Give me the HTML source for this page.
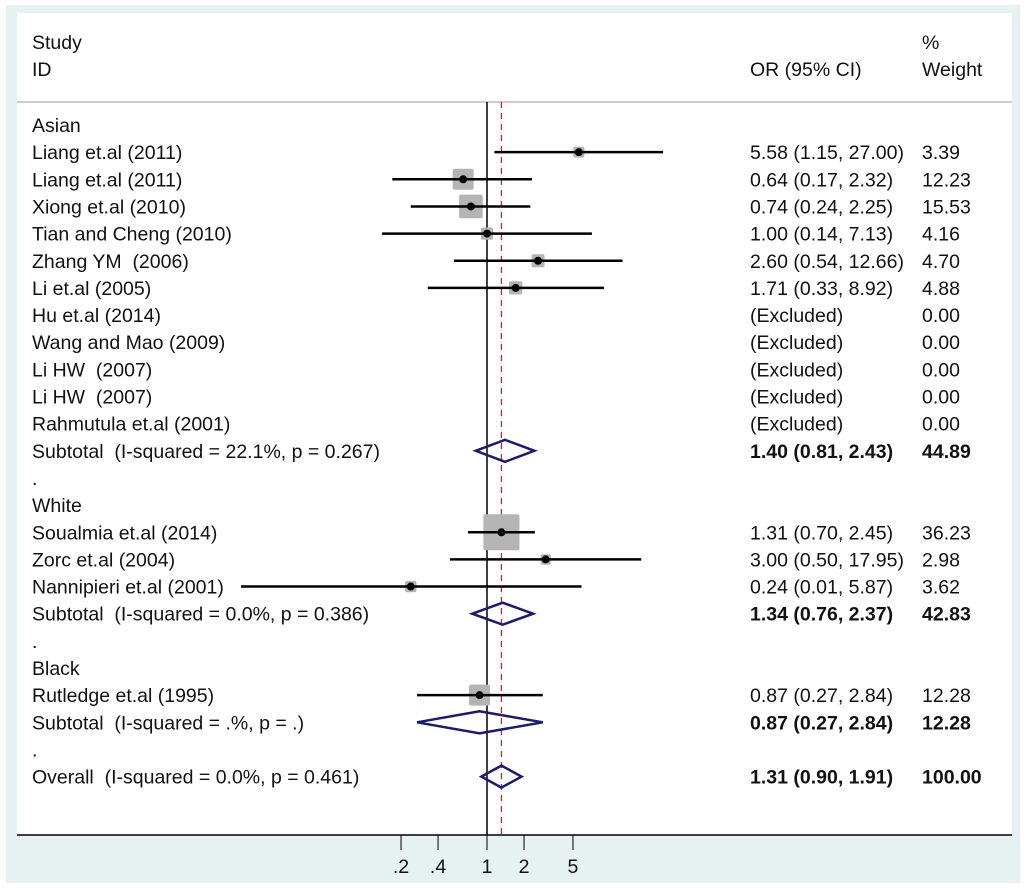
<!DOCTYPE html>
<html><head><meta charset="utf-8"><style>
body{margin:0;background:#fff}
svg{display:block;font-family:"Liberation Sans",Arial,sans-serif}
text{font-size:19.5px;fill:#111;white-space:pre}
</style></head><body>
<svg id="chart" width="1024" height="889">
<rect x="6" y="5" width="1014" height="878" fill="#e6f2f2"/>
<rect x="17" y="13" width="995" height="822" fill="#fff"/>
<line x1="17" y1="102" x2="1012" y2="102" stroke="#bbb" stroke-width="1.5"/>
<text x="32" y="49">Study</text>
<text x="32" y="76">ID</text>
<text x="750" y="76">OR (95% CI)</text>
<text x="922" y="49">%</text>
<text x="922" y="76">Weight</text>
<g id="marks"></g>
</svg>
<script>
const labels=["Asian","Liang et.al (2011)","Liang et.al (2011)","Xiong et.al (2010)","Tian and Cheng (2010)","Zhang YM  (2006)","Li et.al (2005)","Hu et.al (2014)","Wang and Mao (2009)","Li HW  (2007)","Li HW  (2007)","Rahmutula et.al (2001)","Subtotal  (I-squared = 22.1%, p = 0.267)",".","White","Soualmia et.al (2014)","Zorc et.al (2004)","Nannipieri et.al (2001)","Subtotal  (I-squared = 0.0%, p = 0.386)",".","Black","Rutledge et.al (1995)","Subtotal  (I-squared = .%, p = .)",".","Overall  (I-squared = 0.0%, p = 0.461)"];
const types=["h","s","s","s","s","s","s","x","x","x","x","x","d","b","h","s","s","s","d","b","h","s","d","b","d"];
const orVals=[null,5.58,0.64,0.74,1.00,2.60,1.71,null,null,null,null,null,1.40,null,null,1.31,3.00,0.24,1.34,null,null,0.87,0.87,null,1.31];
const lowVals=[null,1.15,0.17,0.24,0.14,0.54,0.33,null,null,null,null,null,0.81,null,null,0.70,0.50,0.01,0.76,null,null,0.27,0.27,null,0.90];
const highVals=[null,27.00,2.32,2.25,7.13,12.66,8.92,null,null,null,null,null,2.43,null,null,2.45,17.95,5.87,2.37,null,null,2.84,2.84,null,1.91];
const weights=[null,3.39,12.23,15.53,4.16,4.70,4.88,0,0,0,0,0,44.89,null,null,36.23,2.98,3.62,42.83,null,null,12.28,12.28,null,100.00];
const tickVals=[0.2,0.4,1,2,5];
const tickLabels=[".2",".4","1","2","5"];
const overallOR=1.31;

const NS="http://www.w3.org/2000/svg";
const g=document.getElementById('marks');
const xS=v=>487+123*Math.log10(v);
const yS=i=>125+i*27.15;
function mk(tag,at,parent){const e=document.createElementNS(NS,tag);for(const k in at)e.setAttribute(k,at[k]);(parent||g).appendChild(e);return e;}
const f2=v=>v.toFixed(2);
let e=mk('line',{x1:xS(1),y1:102,x2:xS(1),y2:835,stroke:'#000','stroke-width':1.5});


e=mk('line',{x1:xS(overallOR),y1:102,x2:xS(overallOR),y2:835,stroke:'#b03040','stroke-width':1.3,'stroke-dasharray':'6,5'});


labels.forEach((lab,i)=>{
  const y=yS(i);
  let t=mk('text',{x:32,y:y+7});t.textContent=lab;
  
  
  const ty=types[i];
  if(ty==='s'){
    const side=6*Math.sqrt(weights[i]);
    let r=mk('rect',{x:xS(orVals[i])-side/2,y:y-side/2,width:side,height:side,fill:'#b4b4b4',rx:2});
    
    
    let l=mk('line',{x1:xS(lowVals[i]),y1:y,x2:xS(highVals[i]),y2:y,stroke:'#000','stroke-width':2.5});
    
    
    let c=mk('circle',{cx:xS(orVals[i]),cy:y,r:4,fill:'#000'});
    
    
  }
  if(ty==='d'){
    const a=xS(lowVals[i]),m=xS(orVals[i]),b=xS(highVals[i]);
    let p=mk('polygon',{points:`${a},${y} ${m},${y-11} ${b},${y} ${m},${y+11}`,fill:'none',stroke:'#1a1a6e','stroke-width':2.5});
    
    
  }
  if(ty==='s'||ty==='d'||ty==='x'){
    let o=mk('text',{x:750,y:y+7,'font-weight':ty==='d'?'bold':'normal'});
    o.textContent=ty==='x'?'(Excluded)':`${f2(orVals[i])} (${f2(lowVals[i])}, ${f2(highVals[i])})`;
    
    
    let w=mk('text',{x:922,y:y+7,'font-weight':ty==='d'?'bold':'normal'});
    w.textContent=f2(weights[i]);
    
    
  }
});
e=mk('line',{x1:17,y1:835,x2:1012,y2:835,stroke:'#000','stroke-width':1.5});


tickVals.forEach((v,i)=>{
  let l=mk('line',{x1:xS(v),y1:835,x2:xS(v),y2:850,stroke:'#000','stroke-width':1});
  
  
  let t=mk('text',{x:xS(v),y:873,'text-anchor':'middle'});
  t.textContent=tickLabels[i];
  
  
});
</script>
</body></html>
